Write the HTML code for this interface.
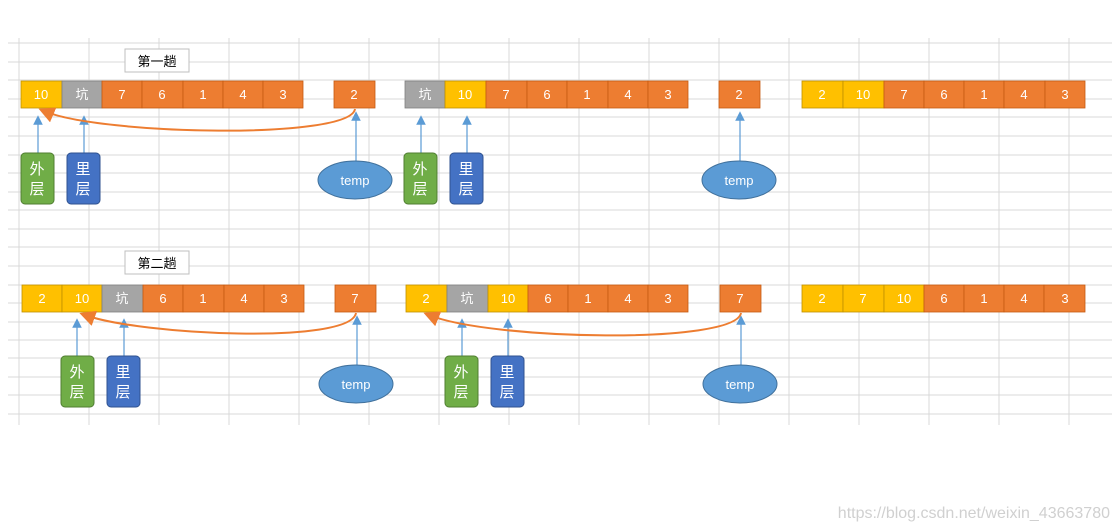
<!DOCTYPE html>
<html><head><meta charset="utf-8"><style>
html,body{margin:0;padding:0;background:#fff;width:1120px;height:531px;overflow:hidden}
svg text{font-family:"Liberation Sans","Noto Sans CJK SC",sans-serif}
</style></head><body>
<svg width="1120" height="531" viewBox="0 0 1120 531" xmlns="http://www.w3.org/2000/svg">
<defs>
<marker id="ab" markerWidth="8" markerHeight="8" refX="4" refY="4" orient="auto"><path d="M0,0 L8,4 L0,8 z" fill="#5B9BD5"/></marker>
<marker id="ao" markerWidth="8" markerHeight="8" refX="5" refY="4" orient="auto"><path d="M0,0 L8,4 L0,8 z" fill="#ED7D31"/></marker>
</defs>
<g stroke="#d9d9d9" stroke-width="1">
<line x1="8" y1="43" x2="1112" y2="43"/><line x1="8" y1="62" x2="1112" y2="62"/><line x1="8" y1="80" x2="1112" y2="80"/><line x1="8" y1="99" x2="1112" y2="99"/><line x1="8" y1="117" x2="1112" y2="117"/><line x1="8" y1="136" x2="1112" y2="136"/><line x1="8" y1="155" x2="1112" y2="155"/><line x1="8" y1="173" x2="1112" y2="173"/><line x1="8" y1="192" x2="1112" y2="192"/><line x1="8" y1="210" x2="1112" y2="210"/><line x1="8" y1="229" x2="1112" y2="229"/><line x1="8" y1="247" x2="1112" y2="247"/><line x1="8" y1="266" x2="1112" y2="266"/><line x1="8" y1="285" x2="1112" y2="285"/><line x1="8" y1="303" x2="1112" y2="303"/><line x1="8" y1="322" x2="1112" y2="322"/><line x1="8" y1="340" x2="1112" y2="340"/><line x1="8" y1="358" x2="1112" y2="358"/><line x1="8" y1="377" x2="1112" y2="377"/><line x1="8" y1="395" x2="1112" y2="395"/><line x1="8" y1="414" x2="1112" y2="414"/>
<line x1="19" y1="38" x2="19" y2="425"/><line x1="89" y1="38" x2="89" y2="425"/><line x1="159" y1="38" x2="159" y2="425"/><line x1="229" y1="38" x2="229" y2="425"/><line x1="299" y1="38" x2="299" y2="425"/><line x1="369" y1="38" x2="369" y2="425"/><line x1="439" y1="38" x2="439" y2="425"/><line x1="509" y1="38" x2="509" y2="425"/><line x1="579" y1="38" x2="579" y2="425"/><line x1="649" y1="38" x2="649" y2="425"/><line x1="719" y1="38" x2="719" y2="425"/><line x1="789" y1="38" x2="789" y2="425"/><line x1="859" y1="38" x2="859" y2="425"/><line x1="929" y1="38" x2="929" y2="425"/><line x1="999" y1="38" x2="999" y2="425"/><line x1="1069" y1="38" x2="1069" y2="425"/>
</g>
<g font-size="13" fill="#000" text-anchor="middle">
<rect x="125" y="49" width="64" height="23" fill="#fff" stroke="#bfbfbf"/><text x="157" y="66">第一趟</text>
<rect x="125" y="251" width="64" height="23" fill="#fff" stroke="#bfbfbf"/><text x="157" y="268">第二趟</text>
</g>
<g stroke="#c55a11" stroke-width="0.8" font-size="13" text-anchor="middle">
<!-- row1 group1 -->
<rect x="21" y="81" width="41" height="27" fill="#FFC000" stroke="#bf9000"/>
<rect x="62" y="81" width="40" height="27" fill="#A5A5A5" stroke="#7f7f7f"/>
<rect x="102" y="81" width="40" height="27" fill="#ED7D31"/><rect x="142" y="81" width="41" height="27" fill="#ED7D31"/><rect x="183" y="81" width="40" height="27" fill="#ED7D31"/><rect x="223" y="81" width="40" height="27" fill="#ED7D31"/><rect x="263" y="81" width="40" height="27" fill="#ED7D31"/>
<rect x="334" y="81" width="41" height="27" fill="#ED7D31"/>
<!-- row1 group2 -->
<rect x="405" y="81" width="40" height="27" fill="#A5A5A5" stroke="#7f7f7f"/>
<rect x="445" y="81" width="41" height="27" fill="#FFC000" stroke="#bf9000"/>
<rect x="486" y="81" width="41" height="27" fill="#ED7D31"/><rect x="527" y="81" width="40" height="27" fill="#ED7D31"/><rect x="567" y="81" width="41" height="27" fill="#ED7D31"/><rect x="608" y="81" width="40" height="27" fill="#ED7D31"/><rect x="648" y="81" width="40" height="27" fill="#ED7D31"/>
<rect x="719" y="81" width="41" height="27" fill="#ED7D31"/>
<!-- row1 group3 -->
<rect x="802" y="81" width="41" height="27" fill="#FFC000" stroke="#bf9000"/><rect x="843" y="81" width="41" height="27" fill="#FFC000" stroke="#bf9000"/>
<rect x="884" y="81" width="40" height="27" fill="#ED7D31"/><rect x="924" y="81" width="40" height="27" fill="#ED7D31"/><rect x="964" y="81" width="40" height="27" fill="#ED7D31"/><rect x="1004" y="81" width="41" height="27" fill="#ED7D31"/><rect x="1045" y="81" width="40" height="27" fill="#ED7D31"/>
<!-- row2 group1 -->
<rect x="22" y="285" width="40" height="27" fill="#FFC000" stroke="#bf9000"/><rect x="62" y="285" width="40" height="27" fill="#FFC000" stroke="#bf9000"/>
<rect x="102" y="285" width="41" height="27" fill="#A5A5A5" stroke="#7f7f7f"/>
<rect x="143" y="285" width="40" height="27" fill="#ED7D31"/><rect x="183" y="285" width="41" height="27" fill="#ED7D31"/><rect x="224" y="285" width="40" height="27" fill="#ED7D31"/><rect x="264" y="285" width="40" height="27" fill="#ED7D31"/>
<rect x="335" y="285" width="41" height="27" fill="#ED7D31"/>
<!-- row2 group2 -->
<rect x="406" y="285" width="41" height="27" fill="#FFC000" stroke="#bf9000"/>
<rect x="447" y="285" width="41" height="27" fill="#A5A5A5" stroke="#7f7f7f"/>
<rect x="488" y="285" width="40" height="27" fill="#FFC000" stroke="#bf9000"/>
<rect x="528" y="285" width="40" height="27" fill="#ED7D31"/><rect x="568" y="285" width="40" height="27" fill="#ED7D31"/><rect x="608" y="285" width="40" height="27" fill="#ED7D31"/><rect x="648" y="285" width="40" height="27" fill="#ED7D31"/>
<rect x="720" y="285" width="41" height="27" fill="#ED7D31"/>
<!-- row2 group3 -->
<rect x="802" y="285" width="41" height="27" fill="#FFC000" stroke="#bf9000"/><rect x="843" y="285" width="41" height="27" fill="#FFC000" stroke="#bf9000"/><rect x="884" y="285" width="40" height="27" fill="#FFC000" stroke="#bf9000"/>
<rect x="924" y="285" width="40" height="27" fill="#ED7D31"/><rect x="964" y="285" width="40" height="27" fill="#ED7D31"/><rect x="1004" y="285" width="40" height="27" fill="#ED7D31"/><rect x="1044" y="285" width="41" height="27" fill="#ED7D31"/>
</g>
<g fill="#fff" font-size="13" text-anchor="middle">
<text x="41" y="99">10</text><text x="82" y="99">坑</text><text x="122" y="99">7</text><text x="162" y="99">6</text><text x="203" y="99">1</text><text x="243" y="99">4</text><text x="283" y="99">3</text><text x="354" y="99">2</text>
<text x="425" y="99">坑</text><text x="465" y="99">10</text><text x="506" y="99">7</text><text x="547" y="99">6</text><text x="587" y="99">1</text><text x="628" y="99">4</text><text x="668" y="99">3</text><text x="739" y="99">2</text>
<text x="822" y="99">2</text><text x="863" y="99">10</text><text x="904" y="99">7</text><text x="944" y="99">6</text><text x="984" y="99">1</text><text x="1024" y="99">4</text><text x="1065" y="99">3</text>
<text x="42" y="303">2</text><text x="82" y="303">10</text><text x="122" y="303">坑</text><text x="163" y="303">6</text><text x="203" y="303">1</text><text x="244" y="303">4</text><text x="284" y="303">3</text><text x="355" y="303">7</text>
<text x="426" y="303">2</text><text x="467" y="303">坑</text><text x="508" y="303">10</text><text x="548" y="303">6</text><text x="588" y="303">1</text><text x="628" y="303">4</text><text x="668" y="303">3</text><text x="740" y="303">7</text>
<text x="822" y="303">2</text><text x="863" y="303">7</text><text x="904" y="303">10</text><text x="944" y="303">6</text><text x="984" y="303">1</text><text x="1024" y="303">4</text><text x="1065" y="303">3</text>
</g>
<!-- blue arrows -->
<g stroke="#5B9BD5" stroke-width="1.2" marker-end="url(#ab)">
<line x1="38" y1="153" x2="38" y2="120"/><line x1="84" y1="153" x2="84" y2="120"/><line x1="356" y1="162" x2="356" y2="116"/>
<line x1="421" y1="153" x2="421" y2="120"/><line x1="467" y1="153" x2="467" y2="120"/><line x1="740" y1="162" x2="740" y2="116"/>
<line x1="77" y1="356" x2="77" y2="323"/><line x1="124" y1="356" x2="124" y2="323"/><line x1="357" y1="366" x2="357" y2="320"/>
<line x1="462" y1="356" x2="462" y2="323"/><line x1="508" y1="356" x2="508" y2="323"/><line x1="741" y1="366" x2="741" y2="320"/>
</g>
<!-- orange curves -->
<g stroke="#ED7D31" stroke-width="2" fill="none" marker-end="url(#ao)">
<path d="M355,109 C350,140 100,135 44,111"/>
<path d="M356,313 C350,345 140,335 85,315"/>
<path d="M741,313 C735,345 490,340 429,315"/>
</g>
<!-- boxes -->
<g font-size="15" fill="#fff" text-anchor="middle">
<rect x="21" y="153" width="33" height="51" rx="4" fill="#70AD47" stroke="#507e32"/><text x="37" y="174">外</text><text x="37" y="194">层</text>
<rect x="67" y="153" width="33" height="51" rx="4" fill="#4472C4" stroke="#2f528f"/><text x="83" y="174">里</text><text x="83" y="194">层</text>
<rect x="404" y="153" width="33" height="51" rx="4" fill="#70AD47" stroke="#507e32"/><text x="420" y="174">外</text><text x="420" y="194">层</text>
<rect x="450" y="153" width="33" height="51" rx="4" fill="#4472C4" stroke="#2f528f"/><text x="466" y="174">里</text><text x="466" y="194">层</text>
<rect x="61" y="356" width="33" height="51" rx="4" fill="#70AD47" stroke="#507e32"/><text x="77" y="377">外</text><text x="77" y="397">层</text>
<rect x="107" y="356" width="33" height="51" rx="4" fill="#4472C4" stroke="#2f528f"/><text x="123" y="377">里</text><text x="123" y="397">层</text>
<rect x="445" y="356" width="33" height="51" rx="4" fill="#70AD47" stroke="#507e32"/><text x="461" y="377">外</text><text x="461" y="397">层</text>
<rect x="491" y="356" width="33" height="51" rx="4" fill="#4472C4" stroke="#2f528f"/><text x="507" y="377">里</text><text x="507" y="397">层</text>
</g>
<g font-size="13" fill="#fff" text-anchor="middle">
<ellipse cx="355" cy="180" rx="37" ry="19" fill="#5B9BD5" stroke="#41719c"/><text x="355" y="185">temp</text>
<ellipse cx="739" cy="180" rx="37" ry="19" fill="#5B9BD5" stroke="#41719c"/><text x="739" y="185">temp</text>
<ellipse cx="356" cy="384" rx="37" ry="19" fill="#5B9BD5" stroke="#41719c"/><text x="356" y="389">temp</text>
<ellipse cx="740" cy="384" rx="37" ry="19" fill="#5B9BD5" stroke="#41719c"/><text x="740" y="389">temp</text>
</g>
<text x="1110" y="518" font-size="16" fill="#d0d0d0" text-anchor="end">https://blog.csdn.net/weixin_43663780</text>
</svg>
</body></html>
